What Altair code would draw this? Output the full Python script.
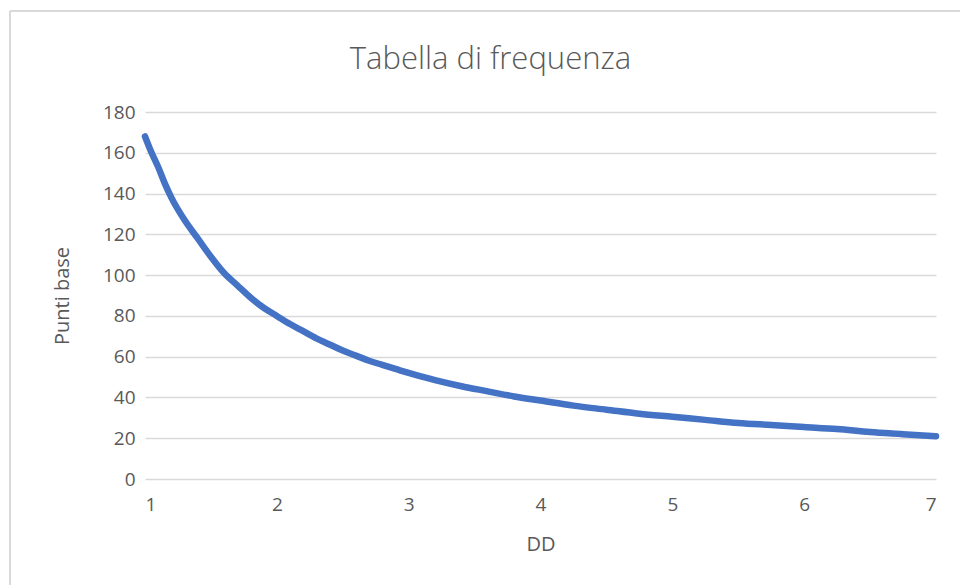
import altair as alt
import pandas as pd

# DD values and the corresponding "Punti base"
dd = [1.00, 1.05, 1.10, 1.15, 1.20, 1.30, 1.40, 1.50, 1.60, 1.70,
      1.80, 1.90, 2.00, 2.10, 2.20, 2.30, 2.40, 2.50, 2.60, 2.70,
      2.80, 2.90, 3.00, 3.20, 3.40, 3.60, 3.80, 4.00, 4.25, 4.50,
      4.75, 5.00, 5.25, 5.50, 5.75, 6.00, 6.25, 6.50, 6.75, 7.00]
punti_base = [168, 160, 153, 145, 138, 127, 118, 109, 101, 95,
              89, 84, 80, 76, 72.5, 69, 66, 63, 60.5, 58,
              56, 54, 52, 48.5, 45.5, 43, 40.5, 38.5, 36, 34,
              32, 30.5, 29, 27.5, 26.5, 25.5, 24.5, 23, 22, 21]

x_ticks = [1, 2, 3, 4, 5, 6, 7]
y_ticks = [0, 20, 40, 60, 80, 100, 120, 140, 160, 180]

df = pd.DataFrame({"DD": dd, "Punti base": punti_base})

FONT = "Open Sans"
TEXT = "#595959"
GRID = "#d9d9d9"

line = alt.Chart(df).mark_line(
    color="#4472C4", strokeWidth=6.5, strokeCap="round",
    strokeJoin="round", interpolate="monotone"
).encode(
    x=alt.X("DD:Q",
            scale=alt.Scale(domain=[1, 7], nice=False, zero=False),
            axis=alt.Axis(values=x_ticks, format="d", grid=False,
                          domain=False, ticks=False, labelPadding=16,
                          title="DD", titlePadding=20)),
    y=alt.Y("Punti base:Q",
            scale=alt.Scale(domain=[0, 180], nice=False),
            axis=alt.Axis(values=y_ticks, grid=True, domain=False,
                          ticks=False, labelPadding=10,
                          title="Punti base", titlePadding=30)),
)

# thin frame of the chart area (left and top edges)
frame_left = alt.Chart(df).mark_rule(color=GRID, strokeWidth=1.5).encode(
    x=alt.value(-135), y=alt.value(-101), y2=alt.value(600))
frame_top = alt.Chart(df).mark_rule(color=GRID, strokeWidth=1.5).encode(
    x=alt.value(-135), x2=alt.value(900), y=alt.value(-101))

chart = alt.layer(frame_left, frame_top, line).properties(
    width=791,
    height=367,
    autosize=alt.AutoSizeParams(type="none"),
    padding={"left": 145, "top": 112, "right": 24, "bottom": 106},
    title=alt.TitleParams(
        "Tabella di frequenza", fontSize=31, font=FONT, fontWeight=300,
        color=TEXT, anchor="middle", frame="group", dx=-50, dy=135,
        baseline="middle", offset=54),
).configure(
    background="white",
).configure_view(
    stroke=None,
).configure_axis(
    labelFont=FONT, labelFontSize=19, labelColor=TEXT,
    titleFont=FONT, titleFontSize=20, titleFontWeight="normal",
    titleColor=TEXT, gridColor=GRID, gridWidth=1.5,
)

chart.save("out.html", embed_options={"renderer": "svg", "actions": False})
